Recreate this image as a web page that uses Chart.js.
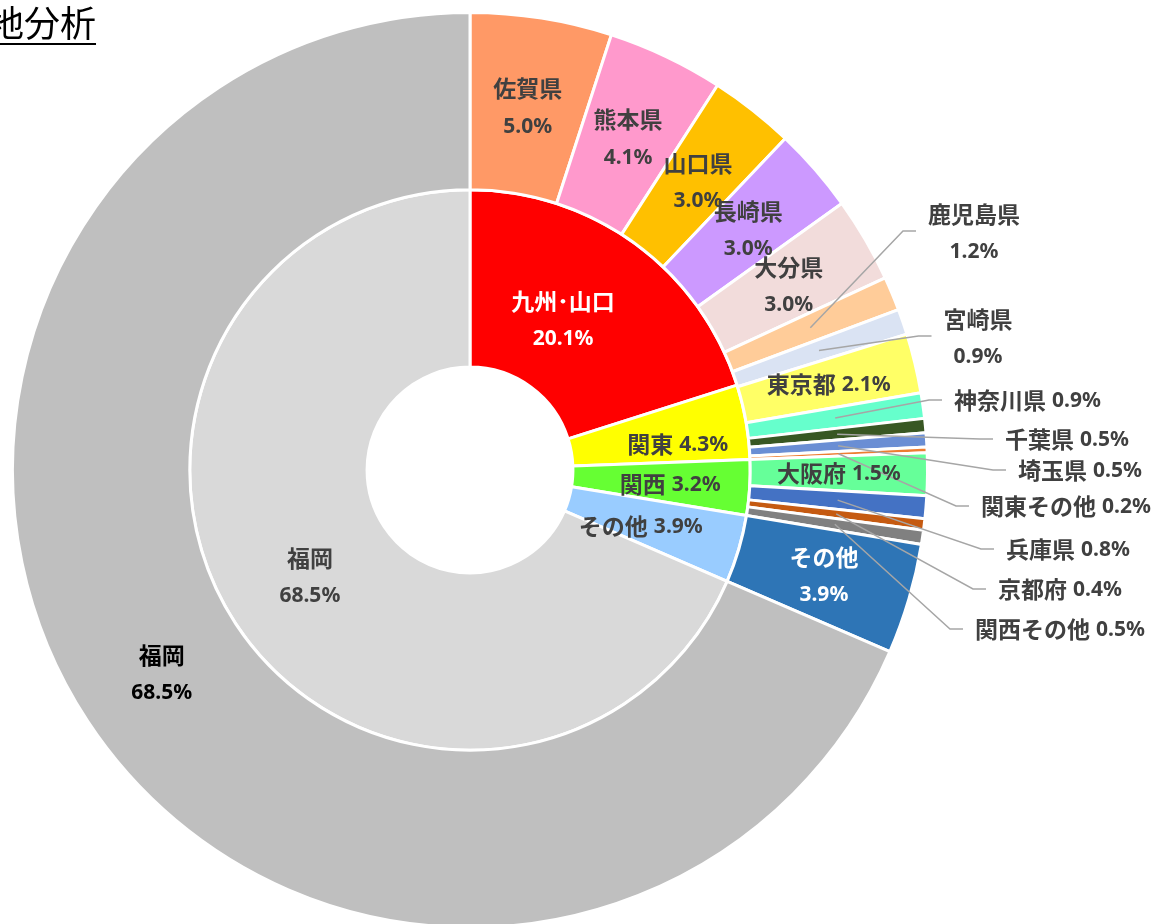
<!DOCTYPE html>
<html lang="ja">
<head>
<meta charset="utf-8">
<title>地分析</title>
<script src="https://cdn.jsdelivr.net/npm/chart.js@4.4.1/dist/chart.umd.min.js"></script>
<style>
    html, body { margin: 0; padding: 0; background: #fff; overflow: hidden; width: 1157px; height: 924px; }
    #grafico { position: absolute; left: 0; top: 0; }
    .titulo {
        position: absolute; left: -12px; top: 3px; z-index: 2;
        font: 36px/36px "Noto Sans CJK JP", sans-serif; color: #000;
        text-decoration: underline; text-decoration-thickness: 2px; text-underline-offset: 6px;
    }
</style>
</head>
<body>
<canvas id="grafico" width="1157" height="935"></canvas>
<div class="titulo">地分析</div>
<script>
(function (window, document) {
    'use strict';

    // 外側の輪: 都道府県別 (%)
    var prefLabels = ['佐賀県', '熊本県', '山口県', '長崎県', '大分県', '鹿児島県', '宮崎県', '東京都', '神奈川県', '千葉県', '埼玉県', '関東その他', '大阪府', '兵庫県', '京都府', '関西その他', 'その他', '福岡'];
    var prefValues = [5.0, 4.1, 3.0, 3.0, 3.0, 1.2, 0.9, 2.1, 0.9, 0.5, 0.5, 0.2, 1.5, 0.8, 0.4, 0.5, 3.9, 68.5];
    var prefColors = ['#FF9966', '#FF99CC', '#FFC000', '#CC99FF', '#F2DCDB', '#FFCC99', '#DAE3F3', '#FFFF66', '#66FFCC', '#385723', '#6A8ED4', '#ED7D31', '#66FF99', '#4472C4', '#C55A11', '#808080', '#2E75B6', '#BFBFBF'];

    // 内側の輪: 地域別 (%)
    var regionLabels = ['九州･山口', '関東', '関西', 'その他', '福岡'];
    var regionValues = [20.1, 4.3, 3.2, 3.9, 68.5];
    var regionColors = ['#FF0000', '#FFFF00', '#66FF33', '#99CCFF', '#D9D9D9'];

    var FONT_NOME = 'bold 23px "Noto Sans CJK JP", sans-serif';
    var FONT_PCT = 'bold 21px "Noto Sans", "Noto Sans CJK JP", sans-serif';
    var COR_TEXTO = '#404040';
    var COR_LINHA = '#A6A6A6';

    // ラベルの置き方 (省略時は扇形の中心に2行)
    var posExterno = {
        '東京都': { linha: true },
        '大阪府': { linha: true },
        'その他': { cor: '#FFFFFF' },
        '福岡': { cor: '#000000' },
        '鹿児島県': { fora: [974, 231] },
        '宮崎県': { fora: [978, 336] },
        '神奈川県': { fora: [954, 400], linha: true },
        '千葉県': { fora: [1005, 439], linha: true },
        '埼玉県': { fora: [1018, 470], linha: true },
        '関東その他': { fora: [981, 506], linha: true },
        '兵庫県': { fora: [1006, 549], linha: true },
        '京都府': { fora: [998, 589], linha: true },
        '関西その他': { fora: [975, 629], linha: true }
    };
    var posInterno = {
        '九州･山口': { cor: '#FFFFFF', dx: -20, dy: 3 },
        '関東': { linha: true, dx: 19, dy: 7 },
        '関西': { linha: true, dx: 9, dy: 2 },
        'その他': { linha: true, dx: -13, dy: 2 }
    };

    function pct(v) {
        return v.toFixed(1) + '%';
    }

    function desenharTexto(ctx, nome, valor, x, y, cfg, alinharEsq) {
        var txt = pct(valor);
        ctx.fillStyle = cfg.cor || COR_TEXTO;
        ctx.textBaseline = 'middle';
        ctx.font = FONT_NOME;
        var wn = ctx.measureText(nome).width;
        ctx.font = FONT_PCT;
        var wp = ctx.measureText(txt).width;
        if (cfg.linha) {
            var gap = 6;
            var esq = alinharEsq ? x : x - (wn + gap + wp) / 2;
            ctx.textAlign = 'left';
            ctx.font = FONT_NOME;
            ctx.fillText(nome, esq, y);
            ctx.font = FONT_PCT;
            ctx.fillText(txt, esq + wn + gap, y + 1);
            return esq;
        }
        ctx.textAlign = 'center';
        ctx.font = FONT_NOME;
        ctx.fillText(nome, x, y - 17);
        ctx.font = FONT_PCT;
        ctx.fillText(txt, x, y + 21);
        return x - Math.max(wn, wp) / 2;
    }

    var rotulos = {
        id: 'rotulos',
        afterDatasetsDraw: function (chart) {
            var ctx = chart.ctx;
            var aneis = [
                { nomes: prefLabels, valores: prefValues, pos: posExterno },
                { nomes: regionLabels, valores: regionValues, pos: posInterno }
            ];
            ctx.save();
            aneis.forEach(function (anel, di) {
                var meta = chart.getDatasetMeta(di);
                meta.data.forEach(function (arc, i) {
                    var nome = anel.nomes[i];
                    var cfg = anel.pos[nome] || {};
                    var c = arc.getCenterPoint(true);
                    if (cfg.fora) {
                        var lx = cfg.fora[0];
                        var ly = cfg.fora[1];
                        var esq = desenharTexto(ctx, nome, anel.valores[i], lx, ly, cfg, cfg.linha);
                        var fim = esq - 12;
                        ctx.strokeStyle = COR_LINHA;
                        ctx.lineWidth = 1.5;
                        ctx.beginPath();
                        ctx.moveTo(c.x, c.y);
                        ctx.lineTo(fim - 13, ly);
                        ctx.lineTo(fim, ly);
                        ctx.stroke();
                    } else {
                        desenharTexto(ctx, nome, anel.valores[i], c.x + (cfg.dx || 0), c.y + (cfg.dy || 0), cfg, false);
                    }
                });
            });
            ctx.restore();
        }
    };

    var $grafico = document.getElementById('grafico');

    new Chart($grafico, {
        type: 'doughnut',
        data: {
            labels: prefLabels,
            datasets: [{
                data: prefValues,
                backgroundColor: prefColors,
                borderColor: '#FFFFFF',
                borderWidth: 3
            }, {
                data: regionValues,
                backgroundColor: regionColors,
                borderColor: '#FFFFFF',
                borderWidth: 3
            }]
        },
        options: {
            responsive: false,
            animation: false,
            cutout: '22.5%',
            layout: {
                padding: { left: 11, top: 11, right: 228, bottom: 6 }
            },
            plugins: {
                legend: { display: false },
                tooltip: { enabled: false }
            }
        },
        plugins: [rotulos]
    });
})(window, document);
</script>
</body>
</html>
